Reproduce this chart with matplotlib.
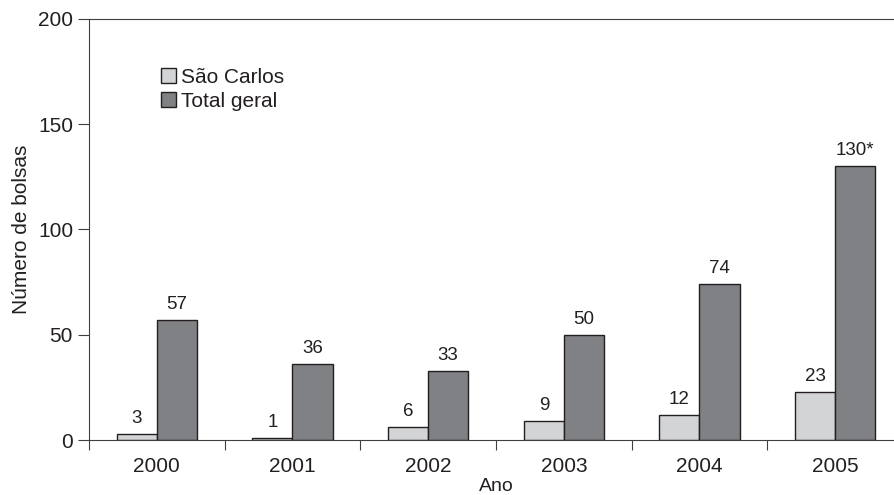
import matplotlib.pyplot as plt
import numpy as np

plt.rcParams['font.family'] = ['Liberation Sans', 'DejaVu Sans']

anos = ['2000', '2001', '2002', '2003', '2004', '2005']
sao_carlos = [3, 1, 6, 9, 12, 23]
total_geral = [57, 36, 33, 50, 74, 130]
rotulos_total = ['57', '36', '33', '50', '74', '130*']

cor_clara = '#d3d4d6'
cor_escura = '#808184'
cor_texto = '#231f20'

fig = plt.figure(figsize=(8.95, 4.95), dpi=100)
ax = fig.add_axes([89/895, 1-440/495, (903-89)/895, (440-19)/495])

x = np.arange(len(anos))
w = 0.295
ax.bar(x - w/2, sao_carlos, w, color=cor_clara, edgecolor=cor_texto, linewidth=1, label='São Carlos')
ax.bar(x + w/2, total_geral, w, color=cor_escura, edgecolor=cor_texto, linewidth=1, label='Total geral')

# rótulos dos valores
for i in range(len(anos)):
    ax.annotate(str(sao_carlos[i]), (x[i] - w/2, sao_carlos[i]), xytext=(0, 5),
                textcoords='offset points', ha='center', va='bottom', fontsize=13.5, color=cor_texto)
    ax.annotate(rotulos_total[i], (x[i] + w/2, total_geral[i]), xytext=(0, 5),
                textcoords='offset points', ha='center', va='bottom', fontsize=13.5, color=cor_texto)

ax.set_xlim(-0.5, len(anos) - 0.5)
ax.set_ylim(0, 200)
ax.set_yticks([0, 50, 100, 150, 200])
ax.set_xticks(np.arange(len(anos) + 1) - 0.5)
ax.set_xticklabels([])
ax.set_xticks(x, minor=True)
ax.set_xticklabels(anos, minor=True)
ax.tick_params(axis='x', which='minor', length=0, pad=12, labelsize=15, labelcolor=cor_texto)
ax.tick_params(axis='x', which='major', length=7, color='#404040')
ax.tick_params(axis='y', length=8, color='#404040', labelsize=15, labelcolor=cor_texto)

ax.spines['right'].set_visible(False)
for s in ['top', 'left', 'bottom']:
    ax.spines[s].set_color('#404040')

ax.set_xlabel('Ano', fontsize=14, color=cor_texto, labelpad=2)
ax.set_ylabel('Número de bolsas', fontsize=15, color=cor_texto, labelpad=5)

ax.legend(loc='upper left', bbox_to_anchor=(0.065, 0.928), frameon=False, fontsize=15,
          handlelength=0.75, handleheight=0.75, handletextpad=0.25, labelspacing=0.22,
          labelcolor=cor_texto)

fig.savefig('out.png', dpi=100)
